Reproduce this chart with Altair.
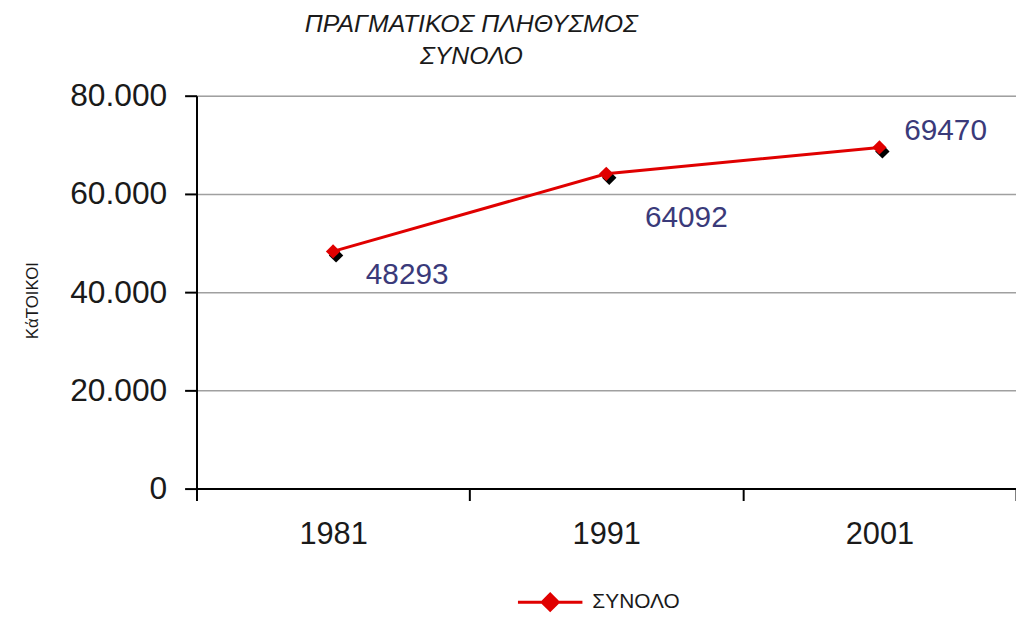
import altair as alt
import pandas as pd

years = ["1981", "1991", "2001"]
population = [48293, 64092, 69470]
series_name = "ΣΥΝΟΛΟ"
title_lines = ["ΠΡΑΓΜΑΤΙΚΟΣ ΠΛΗΘΥΣΜΟΣ", "ΣΥΝΟΛΟ"]
y_title = "ΚάΤΟΙΚΟΙ"

df = pd.DataFrame({"year": years, "pop": population, "series": [series_name] * len(years)})

RED = "#e00000"
LABEL_BLUE = "#3a3a7a"
FONT = "Liberation Sans"

x_enc = alt.X(
    "year:O",
    scale=alt.Scale(type="band", paddingInner=0, paddingOuter=0),
    bandPosition=0.5,
    axis=alt.Axis(
        title=None, labelAngle=0, tickBand="extent", grid=False,
        domainColor="#000000", domainWidth=2, tickColor="#000000", tickWidth=2,
        tickSize=12, labelFontSize=31, labelColor="#1a1a1a", labelPadding=19,
        labelFont=FONT,
    ),
)
y_enc = alt.Y(
    "pop:Q",
    scale=alt.Scale(domain=[0, 80000]),
    axis=alt.Axis(
        values=[0, 20000, 40000, 60000, 80000],
        labelExpr="replace(format(datum.value, ','), ',', '.')",
        title=y_title, titleAngle=-90, titleX=-165, titleY=206,
        titleAlign="center", titleBaseline="middle", titleFontSize=17,
        titleFontWeight="normal", titleFont=FONT, titleColor="#1a1a1a",
        grid=True, gridColor="#a0a0a0", gridWidth=1.5,
        domainColor="#000000", domainWidth=2, tickColor="#000000", tickWidth=2,
        tickSize=12, labelFontSize=32, labelColor="#1a1a1a", labelPadding=18,
        labelFont=FONT,
    ),
)

color_enc = alt.Color(
    "series:N",
    scale=alt.Scale(range=[RED]),
    legend=alt.Legend(
        title=None, orient="none", legendX=346, legendY=500,
        symbolType="M-4,0H4M-1,0L0,-1L1,0L0,1Z",
        symbolSize=264, symbolStrokeWidth=3, symbolFillColor=RED,
        symbolStrokeColor=RED, labelFontSize=21, labelFont=FONT,
        labelColor="#1a1a1a", labelOffset=32,
    ),
)

base = alt.Chart(df)

line = base.mark_line(strokeWidth=3).encode(x=x_enc, y=y_enc, color=color_enc)
shadow = base.mark_point(shape="diamond", filled=True, size=210, color="#000000",
                         opacity=1, xOffset=3, yOffset=4).encode(x=x_enc, y=y_enc)
points = base.mark_point(shape="diamond", filled=True, size=210, opacity=1).encode(
    x=x_enc, y=y_enc, color=alt.Color("series:N", scale=alt.Scale(range=[RED]), legend=None)
)

label_offsets = {"1981": (33, 24), "1991": (39, 45), "2001": (25, -16)}
labels = []
for yr in years:
    dx, dy = label_offsets[yr]
    labels.append(
        base.transform_filter(alt.datum.year == yr)
        .mark_text(align="left", baseline="middle", dx=dx, dy=dy, fontSize=30,
                   font=FONT, color=LABEL_BLUE)
        .encode(x=x_enc, y=y_enc, text=alt.Text("pop:Q", format="d"))
    )

chart = alt.layer(line, shadow, points, *labels).properties(
    width=826,
    height=396,
    autosize=alt.AutoSizeParams(type="none"),
    padding={"left": 190, "top": 86, "right": 0, "bottom": 123},
    title=alt.TitleParams(
        text=title_lines, anchor="middle", dx=-136, offset=11, fontSize=25,
        fontStyle="italic", fontWeight="normal", font=FONT, color="#1a1a1a",
        lineHeight=32,
    ),
).configure_view(stroke=None).configure(background="white")

chart.save("out.html", embed_options={"renderer": "svg", "actions": False})
